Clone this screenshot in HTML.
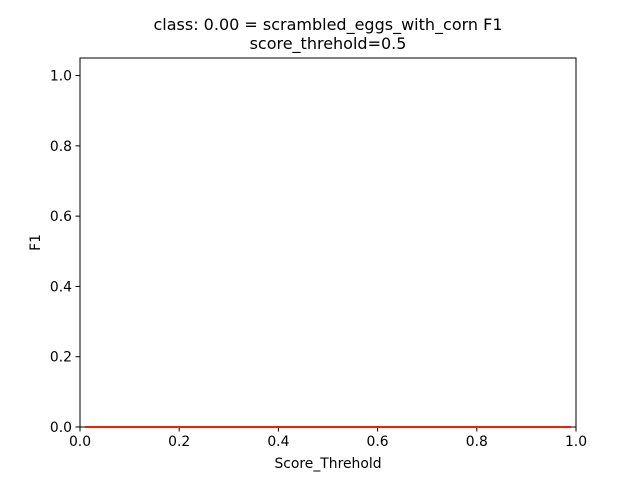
<!DOCTYPE html>
<html><head><meta charset="utf-8"><style>
body{margin:0;background:#fff;font-family:"DejaVu Sans","Liberation Sans",sans-serif;}
svg text{font-family:"DejaVu Sans","Liberation Sans",sans-serif;font-size:13.9px;fill:#000}
</style></head><body>
<svg id="chart" width="640" height="480">
<text x="328" y="30" text-anchor="middle" style="font-size:16px">class: 0.00 = scrambled_eggs_with_corn F1</text>
<text x="328" y="49" text-anchor="middle" style="font-size:16px">score_threhold=0.5</text>
<g id="ticks"></g>
<rect x="80" y="58" width="496" height="369" fill="none" stroke="#000" stroke-width="1"/>
<g id="marks"></g>
<text x="328" y="468" text-anchor="middle">Score_Threhold</text>
<text transform="translate(40,242.5) rotate(-90)" text-anchor="middle">F1</text>
</svg>
<script>
const xTicks=[0,0.2,0.4,0.6,0.8,1.0];
const yTicks=[0,0.2,0.4,0.6,0.8,1.0];
const thresholds=[0.01,0.99];
const f1Values=[0,0];
const xs=v=>80+v*496, ys=v=>427-v/1.05*369;
const NS="http://www.w3.org/2000/svg";
const tg=document.getElementById('ticks'), mg=document.getElementById('marks');
function mk(t,a,p){const e=document.createElementNS(NS,t);for(const k in a)e.setAttribute(k,a[k]);p.appendChild(e);return e;}
xTicks.forEach(v=>{
 const l=mk('line',{x1:xs(v),x2:xs(v),y1:427,y2:431.5,stroke:'#000'},tg);
 
 
 const t=mk('text',{x:xs(v),y:446,'text-anchor':'middle'},tg);t.textContent=v.toFixed(1);
 
 
});
yTicks.forEach(v=>{
 const l=mk('line',{x1:75.5,x2:80,y1:ys(v),y2:ys(v),stroke:'#000'},tg);
 
 
 const t=mk('text',{x:72,y:ys(v)+5,'text-anchor':'end'},tg);t.textContent=v.toFixed(1);
 
 
});
const pts=thresholds.map((x,i)=>xs(x)+','+ys(f1Values[i])).join(' ');
const pl=mk('polyline',{points:pts,fill:'none',stroke:'#f02000','stroke-width':2},mg);


</script>
</body></html>
